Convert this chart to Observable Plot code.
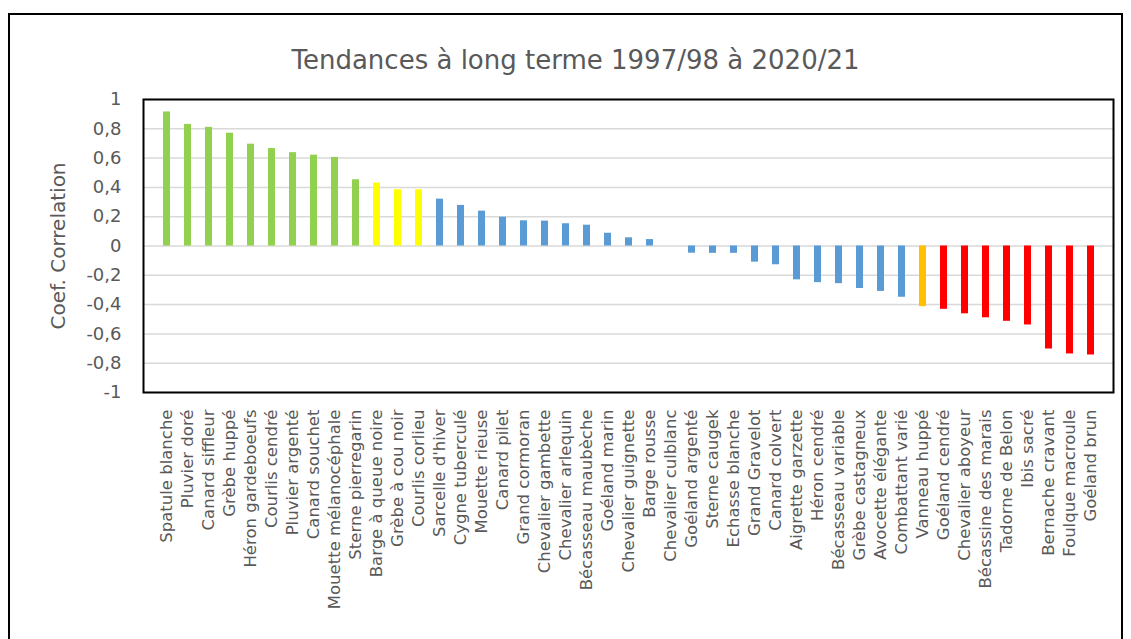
<!DOCTYPE html>
<html>
<head>
<meta charset="utf-8">
<script src="https://cdn.jsdelivr.net/npm/d3@7"></script>
<script src="https://cdn.jsdelivr.net/npm/@observablehq/plot@0.6"></script>
<style>
  html, body { margin: 0; padding: 0; background: #fff; }
  #wrap { position: relative; width: 1131px; height: 639px; overflow: hidden; }
  #box { position: absolute; left: 8px; top: 13px; width: 1115px; height: 700px; border: 2px solid #000; box-sizing: border-box; }
  #chart { position: absolute; left: 0; top: 0; }
</style>
</head>
<body>
<div id="wrap"><div id="box"></div><div id="chart"></div></div>
<script>
const species = [
  "Spatule blanche","Pluvier doré","Canard siffleur","Grèbe huppé","Héron gardeboeufs",
  "Courlis cendré","Pluvier argenté","Canard souchet","Mouette mélanocéphale","Sterne pierregarin",
  "Barge à queue noire","Grèbe à cou noir","Courlis corlieu","Sarcelle d'hiver","Cygne tuberculé",
  "Mouette rieuse","Canard pilet","Grand cormoran","Chevalier gambette","Chevalier arlequin",
  "Bécasseau maubèche","Goéland marin","Chevalier guignette","Barge rousse","Chevalier culblanc",
  "Goéland argenté","Sterne caugek","Echasse blanche","Grand Gravelot","Canard colvert",
  "Aigrette garzette","Héron cendré","Bécasseau variable","Grèbe castagneux","Avocette élégante",
  "Combattant varié","Vanneau huppé","Goéland cendré","Chevalier aboyeur","Bécassine des marais",
  "Tadorne de Belon","Ibis sacré","Bernache cravant","Foulque macroule","Goéland brun"
];
const coef = [
  0.915, 0.83, 0.81, 0.77, 0.695,
  0.665, 0.637, 0.62, 0.605, 0.452,
  0.43, 0.384, 0.384, 0.32, 0.277,
  0.238, 0.197, 0.172, 0.17, 0.152,
  0.142, 0.087, 0.056, 0.044, 0,
  -0.049, -0.05, -0.05, -0.11, -0.128,
  -0.231, -0.25, -0.257, -0.29, -0.31,
  -0.35, -0.414, -0.432, -0.463, -0.49,
  -0.514, -0.539, -0.703, -0.737, -0.744
];
const trend = [
  "hausse forte","hausse forte","hausse forte","hausse forte","hausse forte",
  "hausse forte","hausse forte","hausse forte","hausse forte","hausse forte",
  "hausse modérée","hausse modérée","hausse modérée","stable","stable",
  "stable","stable","stable","stable","stable",
  "stable","stable","stable","stable","stable",
  "stable","stable","stable","stable","stable",
  "stable","stable","stable","stable","stable",
  "stable","baisse modérée","baisse forte","baisse forte","baisse forte",
  "baisse forte","baisse forte","baisse forte","baisse forte","baisse forte"
];
const trendGroups = ["hausse forte","hausse modérée","stable","baisse modérée","baisse forte"];
const trendColors = ["#92D050","#FFFF00","#5B9BD5","#FFC000","#FF0000"];
const yTicks = [-1,-0.8,-0.6,-0.4,-0.2,0,0.2,0.4,0.6,0.8,1];
const title = "Tendances à long terme 1997/98 à 2020/21";
const yLabel = "Coef. Correlation";

const data = species.map((s, i) => ({species: s, coef: coef[i], trend: trend[i]}));
const fmt = v => (Math.abs(v) < 1e-9 ? "0" : String(+v.toFixed(1)).replace(".", ","));

const chart = Plot.plot({
  width: 1131,
  height: 639,
  marginTop: 99,
  marginBottom: 247,
  marginLeft: 143,
  marginRight: 18,
  style: {fontFamily: "'DejaVu Sans', sans-serif", color: "#595959", background: "transparent"},
  x: {domain: species, padding: 0.67},
  y: {domain: [-1, 1]},
  color: {domain: trendGroups, range: trendColors},
  marks: [
    Plot.gridY(yTicks, {stroke: "#d9d9d9", strokeOpacity: 1, strokeWidth: 1.5}),
    Plot.barY(data, {x: "species", y: "coef", fill: "trend"}),
    Plot.frame({stroke: "#000", strokeWidth: 2}),
    Plot.axisY(yTicks, {tickSize: 0, tickPadding: 22, tickFormat: fmt, fontSize: 18, fill: "#595959",
      label: yLabel, labelAnchor: "center", labelArrow: "none", labelOffset: 93}),
    Plot.axisX({tickSize: 0, tickPadding: 17, tickRotate: -90, fontSize: 16.5, fill: "#595959", label: null}),
    Plot.text([title], {frameAnchor: "top", dx: -53, dy: -49, fontSize: 26, fill: "#595959"})
  ]
});
chart.querySelectorAll('g[aria-label="y-axis label"] text').forEach(t => t.setAttribute("font-size", 20));
document.getElementById("chart").appendChild(chart);
</script>
</body>
</html>
